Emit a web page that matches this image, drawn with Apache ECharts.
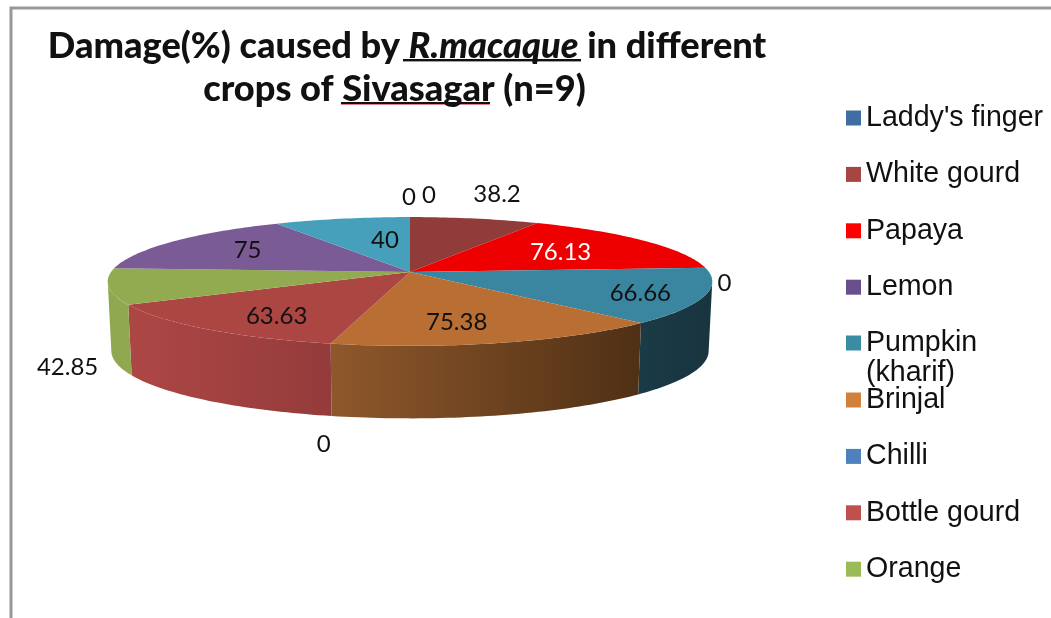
<!DOCTYPE html>
<html><head><meta charset="utf-8">
<style>html,body{margin:0;padding:0;background:#fff}#c{width:1051px;height:618px}</style>
<script src="https://cdn.jsdelivr.net/npm/echarts@6/dist/echarts.min.js"></script>
</head><body><div id="c"></div>
<script>
// ---- data ----
const categories = ["Laddy's finger","White gourd","Papaya","Lemon","Pumpkin (kharif)","Brinjal","Chilli","Bottle gourd","Orange","Category 10","Category 11","Category 12"];
const values = [0,38.2,76.13,0,66.66,75.38,0,63.63,42.85,75,40,0];
const legendTop = ["Laddy's finger","White gourd","Papaya","Lemon"];
const legendMid = ["Pumpkin (kharif)"];
const legendBottom = ["Brinjal","Chilli","Bottle gourd","Orange"];
// ---- styles ----
const legendColors = ['#3f6ea3','#a64542','#ff0000','#6a4f8f','#3a8ba4','#d2803a','#4f81bd','#c0504d','#9bbb59','#8064a2','#4bacc6','#f79646'];
const topColors = ['#3f6ea3','#8f3c3b','#ee0000','#6a4f8f','#3a859f','#b96f33','#4f81bd','#ab4643','#93ab50','#7a5b96','#46a0bb','#f79646'];
const sideStops = {4:['#1a3b47','#18343f'],5:['#8f582b','#4f3015'],7:['#ad4745','#943b3b'],8:['#8fa84f','#90a94f']};
const labelOffsets = [[19,-22],[22,-24],[-83,12],[19,15],[-64,-3],[-45,-21],[-7,101],[71,-13],[-41,81],[74,9],[43,22],[-1,-20]];
const labelColors = {2:'#fff'};
// ---- projection of the tilted disc ----
const CX=410, CY=272, R=299, H=63, D=6.8, WALL=69, R2=R*0.988, H2=66;
const total = values.reduce((a,b)=>a+b,0);
const TOPPT = t=>{const k=D/(D+Math.cos(t));return [CX+R*Math.sin(t)*k, CY-H*Math.cos(t)*k];};
const BOTPT = t=>{const k=D/(D+Math.cos(t));return [CX+R2*Math.sin(t)*k, CY+WALL-H2*Math.cos(t)*k];};
const VIS_A = Math.acos(-1/D), VIS_B = 2*Math.PI-VIS_A;
function arc(fn,a,b){const n=Math.max(2,Math.ceil(Math.abs(b-a)/0.02)),p=[];for(let i=0;i<=n;i++)p.push(fn(a+(b-a)*i/n));return p;}

function render(idx){
  return function(params,api){
    const v=api.value(0);
    let cum=0; for(let i=0;i<idx;i++) cum+=values[i];
    const a=cum/total*2*Math.PI, b=(cum+v)/total*2*Math.PI, m=(a+b)/2;
    const children=[];
    if(v>0){
      const sa=Math.max(a,VIS_A), sb=Math.min(b,VIS_B);
      if(sb>sa){
        const stops=sideStops[idx]||[topColors[idx],topColors[idx]];
        children.push({type:'polygon',z2:1,shape:{points:arc(TOPPT,sa,sb).concat(arc(BOTPT,sb,sa))},
          style:{fill:new echarts.graphic.LinearGradient(1,0,0,0,[{offset:0,color:stops[1]},{offset:1,color:stops[0]}])}});
      }
      children.push({type:'polygon',z2:2,shape:{points:[[CX,CY]].concat(arc(TOPPT,a,b))},style:{fill:topColors[idx]}});
    }
    const p=TOPPT(m), o=labelOffsets[idx];
    children.push({type:'text',z2:3,x:p[0]+o[0],y:p[1]+o[1],style:{text:String(v),fill:labelColors[idx]||'#111',
      font:'24px Lato',align:'center',verticalAlign:'middle'}});
    return {type:'group',children};
  };
}
const series = categories.map((name,i)=>({
  type:'custom',name,silent:true,animation:false,coordinateSystem:'none',
  itemStyle:{color:legendColors[i]},data:[[values[i]]],renderItem:render(i)
}));
const legendBase = {left:846,orient:'vertical',padding:0,itemWidth:15,itemHeight:15,itemGap:26.4,icon:'rect',selectedMode:false,
  textStyle:{fontFamily:'Liberation Sans',fontSize:28.6,color:'#111',lineHeight:30}};
const chart = echarts.init(document.getElementById('c'),null,{renderer:'canvas'});
chart.setOption({
  backgroundColor:'#fff',animation:false,
  title:{left:407,top:25,textAlign:'center',padding:0,
    text:'{b|Damage(%) caused by }{i|R.macaque}{b| in different}\n{b|crops of Sivasagar (n=9)}{p| }',
    textStyle:{rich:{
      b:{fontFamily:'Lato',fontWeight:900,fontSize:36.2,color:'#111',lineHeight:43},
      i:{fontFamily:'Lato',fontWeight:900,fontStyle:'italic',fontSize:36.2,color:'#111',lineHeight:43},
      p:{width:25,fontSize:36.2,lineHeight:43}}}},
  legend:[
    Object.assign({},legendBase,{top:103,data:legendTop}),
    Object.assign({},legendBase,{top:298,data:legendMid,formatter:()=>'\nPumpkin\n(kharif)'}),
    Object.assign({},legendBase,{top:385,data:legendBottom})
  ],
  series,
  graphic:[
    {type:'polyline',shape:{points:[[1051,8],[11,8],[11,618]]},style:{stroke:'#989898',lineWidth:3,fill:null}},
    {type:'line',shape:{x1:403,y1:60,x2:581,y2:60},style:{stroke:'#111',lineWidth:2}},
    {type:'line',shape:{x1:403,y1:61.5,x2:581,y2:61.5},style:{stroke:'#e8808a',lineWidth:1}},
    {type:'line',shape:{x1:341,y1:103,x2:490,y2:103},style:{stroke:'#111',lineWidth:2}},
    {type:'line',shape:{x1:341,y1:104.5,x2:490,y2:104.5},style:{stroke:'#e8808a',lineWidth:1}}
  ]
});
</script></body></html>
